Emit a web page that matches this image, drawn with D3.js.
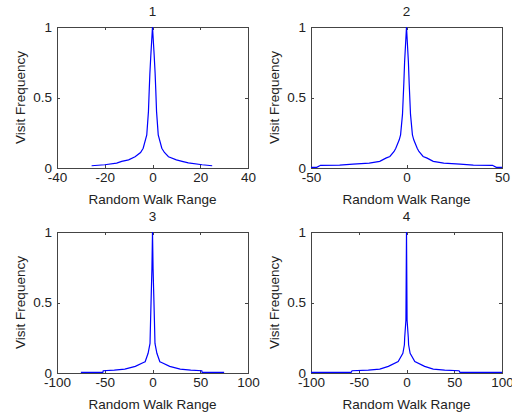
<!DOCTYPE html>
<html>
<head>
<meta charset="utf-8">
<script src="https://cdn.jsdelivr.net/npm/d3@7"></script>
<style>
body { margin:0; background:#fff; }
text { font-family: "Liberation Sans", Arial, sans-serif; font-size:13.5px; fill:#222; }
</style>
</head>
<body>
<script>
//----------------------------------datos
var titulos = ["1", "2", "3", "4"];
var ticksX1 = [-40, -20, 0, 20, 40];
var ticksX2 = [-50, 0, 50];
var ticksX3 = [-100, -50, 0, 50, 100];
var ticksX4 = [-100, -50, 0, 50, 100];
var ticksY = [0, 0.5, 1];
var etiquetaX = "Random Walk Range";
var etiquetaY = "Visit Frequency";

var walk1X = [-25.5,-20,-15,-12.9,-10,-7.3,-5,-3.9,-2.4,-1.7,-1.4,-1.1,-0.7,0,0.7,1.1,1.4,1.7,2.4,3.9,5,6.7,10,12.4,15,20.8,25];
var walk1Y = [0.016,0.023,0.035,0.047,0.058,0.08,0.11,0.14,0.235,0.4,0.54,0.67,0.8,1,0.8,0.67,0.54,0.4,0.235,0.14,0.11,0.08,0.058,0.047,0.036,0.023,0.016];

var walk2X = [-50,-47,-45,-35,-28,-19.5,-14,-10.8,-8.7,-6.5,-5.6,-3.8,-3.1,-2.1,-1.4,-1,0,1,1.4,2.1,3.1,3.8,5.6,6.5,8.7,10.8,14,19.5,28,35,45,47,50];
var walk2Y = [0.005,0.005,0.019,0.02,0.028,0.035,0.047,0.07,0.082,0.117,0.14,0.2,0.235,0.38,0.6,0.75,1,0.75,0.6,0.38,0.235,0.2,0.14,0.117,0.082,0.07,0.047,0.035,0.028,0.02,0.019,0.005,0.005];

var walk3X = [-75,-52,-51.6,-40,-29,-18,-9.5,-7.7,-4.6,-2.6,-2,-1.3,-0.6,0,0.6,1.3,2,2.6,4.6,7.7,9.5,18,29,40,51.6,52,75];
var walk3Y = [0.004,0.004,0.016,0.02,0.028,0.047,0.075,0.08,0.14,0.21,0.376,0.56,0.74,1,0.74,0.56,0.376,0.21,0.14,0.08,0.075,0.047,0.028,0.02,0.016,0.004,0.004];

var walk4X = [-100,-58,-57,-40,-28,-19,-8.7,-3.8,-2.2,-1.9,-0.6,0,0.6,1.9,2.2,3.8,8.7,19,28,40,55,56,100];
var walk4Y = [0.005,0.005,0.016,0.02,0.028,0.047,0.082,0.14,0.2,0.25,0.376,1,0.376,0.25,0.2,0.14,0.082,0.047,0.028,0.02,0.016,0.005,0.005];

//----------------------------------paneles
var paneles = [
	{titulo: titulos[0], xs: walk1X, ys: walk1Y, dominio: [-40, 40], ticks: ticksX1, izq: 57, top: 27},
	{titulo: titulos[1], xs: walk2X, ys: walk2Y, dominio: [-50, 50], ticks: ticksX2, izq: 311, top: 27},
	{titulo: titulos[2], xs: walk3X, ys: walk3Y, dominio: [-100, 100], ticks: ticksX3, izq: 57, top: 232},
	{titulo: titulos[3], xs: walk4X, ys: walk4Y, dominio: [-100, 100], ticks: ticksX4, izq: 311, top: 232}
];
var ancho = 191, alto = 141, largoTick = 3;

var svg = d3.select("body").append("svg")
	.attr("width", 512)
	.attr("height", 415);

paneles.forEach(function (p) {
	dibujarPanel(p);
});

function dibujarPanel(p)
{
	var x = d3.scaleLinear().domain(p.dominio).range([0, ancho]);
	var y = d3.scaleLinear().domain([0, 1]).range([alto, 0]);
	var g = svg.append("g").attr("transform", "translate(" + p.izq + "," + p.top + ")");

	// ejes con ticks hacia adentro, como matlab
	var ejeAbajo = d3.axisBottom(x).tickValues(p.ticks).tickSize(-largoTick).tickPadding(4).tickFormat(function (d) { return String(d); });
	var ejeArriba = d3.axisTop(x).tickValues(p.ticks).tickSize(-largoTick).tickFormat("");
	var ejeIzq = d3.axisLeft(y).tickValues(ticksY).tickSize(-largoTick).tickPadding(5).tickFormat(function (d) { return String(d); });
	var ejeDer = d3.axisRight(y).tickValues(ticksY).tickSize(-largoTick).tickFormat("");

	g.append("g").attr("class", "eje").attr("transform", "translate(0," + alto + ")").call(ejeAbajo);
	g.append("g").attr("class", "eje").call(ejeArriba);
	g.append("g").attr("class", "eje").call(ejeIzq);
	g.append("g").attr("class", "eje").attr("transform", "translate(" + ancho + ",0)").call(ejeDer);

	g.selectAll(".eje path").attr("stroke", "#444").attr("shape-rendering", "crispEdges");
	g.selectAll(".eje line").attr("stroke", "#444").attr("shape-rendering", "crispEdges");
	g.selectAll(".eje text").style("font-size", "13.5px").attr("fill", "#222")
		.style("font-family", "'Liberation Sans', Arial, sans-serif");

	// curva
	var puntos = p.xs.map(function (d, i) { return [d, p.ys[i]]; });
	var linea = d3.line()
		.x(function (d) { return x(d[0]); })
		.y(function (d) { return y(d[1]); });
	g.append("path")
		.datum(puntos)
		.attr("d", linea)
		.attr("fill", "none")
		.attr("stroke", "#0000ff")
		.attr("stroke-width", 1.2);

	// titulo y etiquetas
	g.append("text")
		.attr("x", ancho / 2).attr("y", -11)
		.attr("text-anchor", "middle")
		.text(p.titulo);
	g.append("text")
		.attr("x", ancho / 2).attr("y", alto + 36)
		.attr("text-anchor", "middle")
		.text(etiquetaX);
	g.append("text")
		.attr("transform", "translate(-32," + (alto / 2) + ") rotate(-90)")
		.attr("text-anchor", "middle")
		.text(etiquetaY);
}
</script>
</body>
</html>
